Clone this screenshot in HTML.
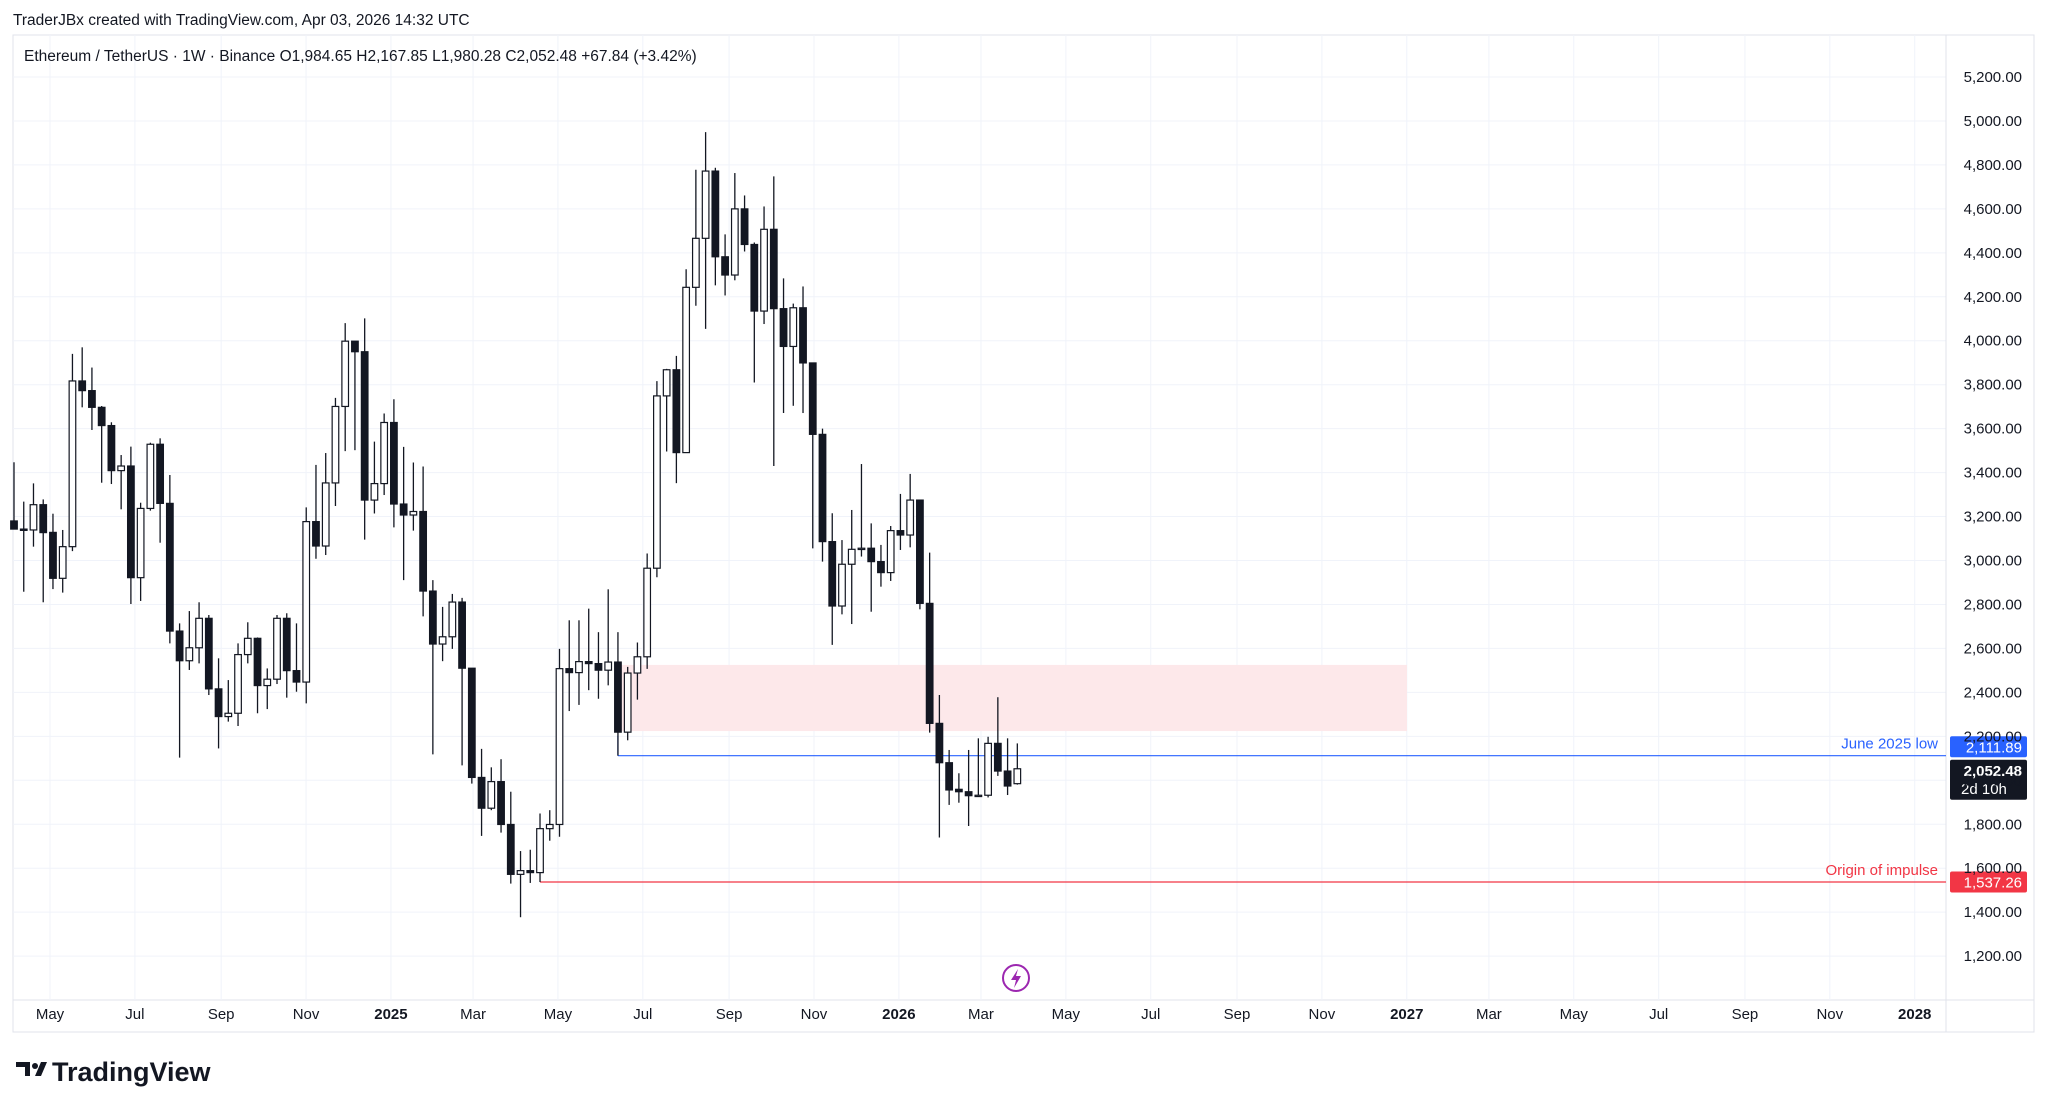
<!DOCTYPE html>
<html><head><meta charset="utf-8">
<style>
html,body{margin:0;padding:0;background:#fff;}
svg{display:block;font-family:"Liberation Sans",Arial,sans-serif;}
</style></head>
<body>
<svg id="chart" width="2048" height="1111" viewBox="0 0 2048 1111" xmlns="http://www.w3.org/2000/svg">
<rect x="0" y="0" width="2048" height="1111" fill="#fff"/>
<text x="13" y="25" font-size="15.5" fill="#131722">TraderJBx created with TradingView.com, Apr 03, 2026 14:32 UTC</text>
<rect x="13" y="35" width="2021" height="997" fill="none" stroke="#e0e3eb" stroke-width="1"/>
<g id="grid"></g>
<g id="zones"></g>
<g id="candles"></g>
<g id="yaxis"></g>
<g id="xaxis"></g>
<text x="24" y="61" font-size="15.5" fill="#131722">Ethereum / TetherUS · 1W · Binance  O1,984.65  H2,167.85  L1,980.28  C2,052.48  +67.84 (+3.42%)</text>
<g>
<circle cx="1016" cy="978" r="13" fill="#fff" stroke="#9c27b0" stroke-width="2"/>
<path d="M1018 969 L1011 980 L1016 980 L1014 988 L1021 976 L1016 976 Z" fill="#9c27b0"/>
</g>
<g>
<path d="M16 1062 h14 v14 h-5 v-9 h-9 Z" fill="#131722"/>
<circle cx="35" cy="1066" r="3" fill="#131722"/>
<path d="M35 1076 L41 1062 L47 1062 L41 1076 Z" fill="#131722"/>
<text x="52" y="1081" font-size="27" font-weight="bold" fill="#131722">TradingView</text>
</g>
</svg>
<script>
const opens=[3180,3143,3139,3254,3128,2919,3063,3817,3773,3697,3614,3409,3430,2922,3237,3529,3260,2679,2544,2603,2737,2416,2290,2305,2572,2646,2431,2460,2737,2499,2447,3177,3066,3353,3701,3998,3950,3275,3350,3628,3257,3207,3223,2861,2620,2653,2811,2510,2013,1873,1994,1799,1572,1589,1580,1780,1799,2508,2490,2540,2531,2501,2538,2219,2488,2562,2965,3749,3868,3491,4243,4466,4772,4382,4299,4600,4438,4135,4507,4146,3974,4150,3899,3574,3086,2793,2983,3051,3056,2995,2945,3136,3116,3275,2805,2259,2080,1959,1948,1930,1932,2168,2042,1984.65];
const highs=[3447,3268,3351,3278,3213,3139,3940,3970,3878,3703,3629,3480,3518,3263,3536,3556,3389,2714,2770,2810,2752,2555,2456,2623,2719,2650,2509,2752,2760,2714,3242,3435,3489,3740,4080,3998,4102,3541,3669,3734,3517,3446,3428,2911,2789,2848,2830,2510,2143,2059,2096,1948,1678,1684,1849,1864,2598,2728,2728,2781,2674,2869,2674,2516,2627,3032,3816,3872,3931,4325,4778,4949,4787,4484,4763,4661,4447,4611,4748,4284,4169,4247,3899,3600,3215,3093,3230,3439,3169,3071,3157,3303,3394,3275,3036,2388,2138,2032,2138,2191,2198,2378,2191,2167.85];
const lows=[3143,2858,3063,2810,2870,2854,3043,3697,3594,3354,3348,3233,2802,2816,3227,3081,2623,2103,2502,2532,2388,2145,2267,2247,2532,2305,2324,2438,2376,2403,2350,3008,3025,3248,3498,3502,3095,3214,3298,3151,2911,3136,2746,2118,2542,2598,2068,1985,1747,1864,1762,1530,1377,1533,1537,1725,1743,2315,2343,2410,2371,2432,2112,2182,2367,2507,2924,3496,3352,3491,4159,4054,4252,4206,4275,4406,3810,4076,3430,3671,3704,3671,3055,2995,2616,2755,2711,3018,2767,2881,2907,3048,3060,2778,2217,1740,1888,1898,1792,1926,1922,2020,1933,1980.28];
const closes=[3143,3139,3254,3127,2919,3063,3817,3773,3697,3614,3409,3430,2922,3237,3529,3260,2679,2544,2603,2737,2416,2290,2305,2572,2646,2431,2460,2737,2499,2447,3177,3066,3353,3701,3998,3950,3275,3350,3628,3257,3207,3223,2861,2620,2653,2811,2510,2013,1873,1994,1799,1572,1589,1580,1780,1799,2508,2490,2540,2531,2501,2538,2219,2488,2562,2965,3749,3868,3491,4243,4466,4772,4382,4299,4600,4438,4135,4507,4146,3974,4150,3899,3574,3086,2793,2983,3051,3056,2995,2945,3136,3116,3275,2805,2259,2080,1956,1948,1930,1932,2168,2042,1974,2052.48];
const priceTicks=[1200,1400,1600,1800,2000,2200,2400,2600,2800,3000,3200,3400,3600,3800,4000,4200,4400,4600,4800,5000,5200];
const timeTickDates=["2024-05-01","2024-07-01","2024-09-01","2024-11-01","2025-01-01","2025-03-01","2025-05-01","2025-07-01","2025-09-01","2025-11-01","2026-01-01","2026-03-01","2026-05-01","2026-07-01","2026-09-01","2026-11-01","2027-01-01","2027-03-01","2027-05-01","2027-07-01","2027-09-01","2027-11-01","2028-01-01"];
const timeTickLabels=["May","Jul","Sep","Nov","2025","Mar","May","Jul","Sep","Nov","2026","Mar","May","Jul","Sep","Nov","2027","Mar","May","Jul","Sep","Nov","2028"];
const levelPrices=[2111.89,1537.26];
const zoneTop=2525, zoneBottom=2224;
const lastClose=2052.48;

const NS="http://www.w3.org/2000/svg";
const PLOT_L=13,PLOT_R=1946,PLOT_T=35,PLOT_B=1000;
const Y0=77,P0=5200,PXPER=0.21978;
function yOf(p){return Y0+(P0-p)*PXPER;}
const STEP=9.741,X0=14;
const t0=Date.UTC(2024,3,8),WEEK=7*864e5;
function xOfIndex(i){return X0+i*STEP;}
function xOfTime(t){return X0+(t-t0)/WEEK*STEP;}
function mk(tag,attrs,parent){const e=document.createElementNS(NS,tag);for(const k in attrs)e.setAttribute(k,attrs[k]);parent.appendChild(e);return e;}
function fmt(v){return v.toLocaleString("en-US",{minimumFractionDigits:2,maximumFractionDigits:2});}

const grid=document.getElementById("grid");
priceTicks.forEach(p=>{
  const y=yOf(p);
  const l=mk("line",{x1:PLOT_L,x2:PLOT_R,y1:y,y2:y,stroke:"#f0f3fa","stroke-width":1},grid);
  
  
  const t=mk("text",{x:2022,y:y+5,"font-size":15,fill:"#131722","text-anchor":"end"},document.getElementById("yaxis"));
  t.textContent=fmt(p);
  
  
});
mk("line",{x1:PLOT_R,x2:PLOT_R,y1:PLOT_T,y2:1032,stroke:"#e0e3eb","stroke-width":1},grid);
mk("line",{x1:PLOT_L,x2:2034,y1:PLOT_B,y2:PLOT_B,stroke:"#e0e3eb","stroke-width":1},grid);
timeTickDates.forEach((d,i)=>{
  const x=xOfTime(Date.parse(d+"T00:00:00Z"))+4;
  const l=mk("line",{x1:x,x2:x,y1:PLOT_T,y2:PLOT_B,stroke:"#f0f3fa","stroke-width":1},grid);
  
  
  const isYear=/^\d{4}$/.test(timeTickLabels[i]);
  const t=mk("text",{x:x,y:1019,"font-size":15,fill:"#131722","text-anchor":"middle","font-weight":isYear?"bold":"normal"},document.getElementById("xaxis"));
  t.textContent=timeTickLabels[i];
  
  
});

const zones=document.getElementById("zones");
const z=mk("rect",{x:xOfIndex(63)-7,y:yOf(zoneTop),width:1407-(xOfIndex(63)-7),height:yOf(zoneBottom)-yOf(zoneTop),fill:"#fde8ea"},zones);


const lvlColors=["#2962ff","#f23645"],lvlStart=[62,54],lvlNames=["June 2025 low","Origin of impulse"];
const lastY=yOf(lastClose);
levelPrices.forEach((p,i)=>{
  const y=yOf(p),xs=xOfIndex(lvlStart[i]);
  const l=mk("line",{x1:xs,x2:PLOT_R,y1:y,y2:y,stroke:lvlColors[i],"stroke-width":1.2},zones);
  
  
  if(i===0){mk("line",{x1:xs,x2:xs,y1:y-20,y2:y,stroke:lvlColors[i],"stroke-width":1.2},zones);}
  const t=mk("text",{x:1938,y:y-7,"font-size":15,fill:lvlColors[i],"text-anchor":"end"},zones);
  t.textContent=lvlNames[i];
  
  
  // avoid overlap with last-price tag (TradingView pushes labels apart)
  let cy=y;
  if(Math.abs(y-lastY)<30) cy=Math.min(y,lastY-22);
  const r=mk("rect",{x:1950,y:cy-10.5,width:77,height:21,fill:lvlColors[i],rx:2},zones);
  
  
  const tt=mk("text",{x:2022,y:cy+5.5,"font-size":15,fill:"#fff","text-anchor":"end"},zones);
  tt.textContent=fmt(p);
  
  
});
const lr=mk("rect",{x:1950,y:lastY-9,width:77,height:40,fill:"#131722",rx:2},zones);


const lt=mk("text",{x:2022,y:lastY+7,"font-size":15,fill:"#fff","text-anchor":"end","font-weight":"bold"},zones);
lt.textContent=fmt(lastClose);


const lc=mk("text",{x:1961,y:lastY+25,"font-size":15,fill:"#fff"},zones);
lc.textContent="2d 10h";



const cg=document.getElementById("candles");
const BW=6.6;
closes.forEach((c,i)=>{
  const o=opens[i],h=highs[i],lo=lows[i],x=xOfIndex(i);
  const g=mk("g",{},cg);
  
  
  mk("line",{x1:x,x2:x,y1:yOf(h),y2:yOf(lo),stroke:"#131722","stroke-width":1.3},g);
  const top=yOf(Math.max(o,c)),bot=yOf(Math.min(o,c));
  mk("rect",{x:x-BW/2,y:top,width:BW,height:Math.max(1.3,bot-top),fill:c>=o?"#fff":"#131722",stroke:"#131722","stroke-width":1.2},g);
});
</script>
</body></html>
